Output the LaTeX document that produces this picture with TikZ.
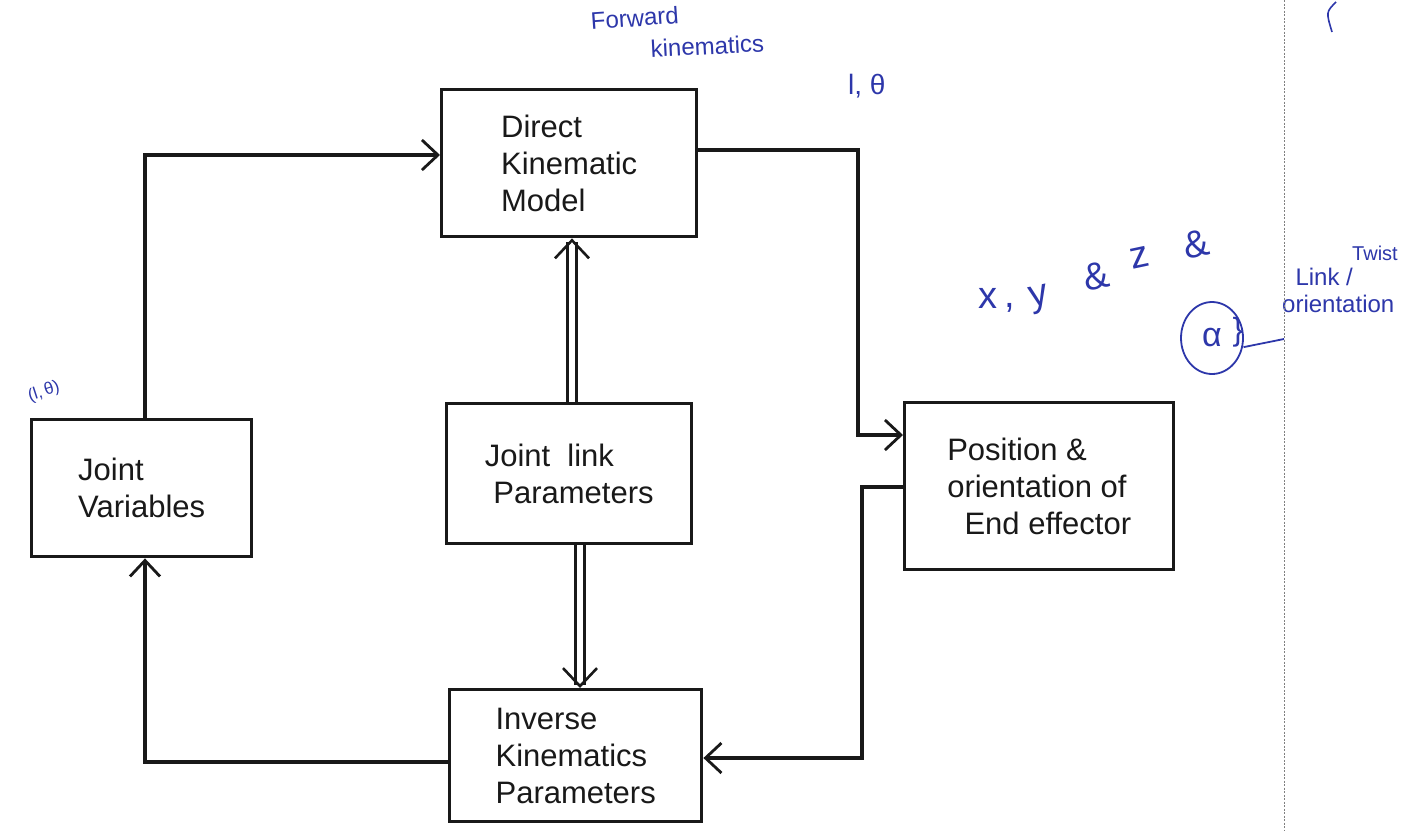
\documentclass[tikz,border=0pt]{standalone}
\usepackage{fontspec}
\setmainfont{Liberation Sans}
\usetikzlibrary{arrows.meta,shapes.geometric}
\definecolor{ink}{RGB}{25,25,25}
\definecolor{pen}{RGB}{45,55,170}
\begin{document}
\begin{tikzpicture}[x=1pt,y=-1pt,
  box/.style={draw=ink, line width=3.4pt, anchor=north west, inner sep=0pt,
    font=\fontsize{31}{37}\selectfont, text=ink},
  link/.style={draw=ink, line width=3.2pt, -{Straight Barb[length=16pt,width=30pt,line width=2.8pt]}},
  dlink/.style={draw=ink, line width=2.6pt, double=white, double distance=6pt,
    -{Straight Barb[length=18pt,width=34pt,line width=2.6pt]}},
  note/.style={text=pen, font=\fontsize{24}{30}\selectfont, inner sep=0pt},
  bignote/.style={note, font=\fontsize{38}{40}\selectfont, rotate=12}]
\useasboundingbox (0,0) rectangle (1418,831);
\fill[white] (0,0) rectangle (1418,831);

% blocks
\node[box, minimum width=255pt, minimum height=147pt, align=left] (dkm) at (440,88)
  {Direct\\Kinematic\\Model};
\node[box, minimum width=220pt, minimum height=137pt, align=left] (jv) at (30,418)
  {Joint\\Variables};
\node[box, minimum width=245pt, minimum height=140pt, align=left] (jlp) at (445,402)
  {Joint\ \ link\\\ Parameters};
\node[box, minimum width=269pt, minimum height=167pt, align=left] (pee) at (903,401)
  {Position \&\\orientation of\\\ \ End effector};
\node[box, minimum width=252pt, minimum height=132pt, align=left] (ikp) at (448,688)
  {Inverse\\Kinematics\\Parameters};

% turning points of the loop
\coordinate (c1) at (145,155);
\coordinate (c2) at (858,150);
\coordinate (c3) at (858,435);
\coordinate (c4) at (862,487);
\coordinate (c5) at (862,758);
\coordinate (c6) at (145,762);

% forward loop
\draw[link] (jv.north -| c1) -- (c1) -- (c1 -| dkm.west);
\draw[link] (dkm.east |- c2) -- (c2) -- (c3) -- (c3 -| pee.west);
% inverse loop
\draw[link] (pee.west |- c4) -- (c4) -- (c5) -- (c5 -| ikp.east);
\draw[link] (ikp.west |- c6) -- (c6) -- (c6 |- jv.south);

% parameter feeds
\draw[dlink] (jlp.north -| 572,0) -- (572,0 |- dkm.south);
\draw[dlink] (jlp.south -| 580,0) -- (580,0 |- ikp.north);

% pen notes
\node[note, anchor=north west, rotate=4] (fw) at (590,12) {Forward};
\node[note, anchor=north west, rotate=3] (fk) at (650,40) {kinematics};
\node[note, anchor=west, font=\fontsize{28}{30}\selectfont] (lt) at (848,86) {l, θ};
% position coordinates, written rising to the right
\node[bignote, rotate=-12] (px) at (988,298) {x};
\node[bignote, rotate=-12] (pc) at (1010,308) {,};
\node[bignote] (py) at (1040,300) {y};
\node[bignote] (pa1) at (1096,276) {\&};
\node[bignote] (pz) at (1140,258) {z};
\node[bignote] (pa2) at (1196,244) {\&};
\node[note, draw=pen, line width=1.8pt, ellipse, minimum width=62pt, minimum height=72pt,
  font=\fontsize{34}{34}\selectfont] (al) at (1212,338) {α};
\node[note, font=\fontsize{32}{32}\selectfont] (br) at (1238,332) {\}};
\coordinate (lk) at (1284,339);
\draw[pen, line width=1.8pt] (br.south east) -- (lk);
\node[note, anchor=north west, font=\fontsize{20}{22}\selectfont] (tw) at (1352,246) {Twist};
\node[note, anchor=north west, align=left, font=\fontsize{24}{27}\selectfont] (lo) at (1282,268)
  {\ \ Link /\\orientation};
\node[note, rotate=18, font=\fontsize{17}{17}\selectfont] (jn) at (44,392) {(l,\,θ)};

% page fold and stray stroke
\coordinate (f1) at (1284,0);
\coordinate (f2) at (1284,831);
\draw[gray, line width=1pt, dash pattern=on 2pt off 1.5pt] (f1) -- (f2);
\coordinate (s1) at (1336,2);
\coordinate (s2) at (1332,32);
\draw[pen, line width=1.6pt] (s1) .. controls (1326,12) .. (s2);
\end{tikzpicture}
\end{document}
